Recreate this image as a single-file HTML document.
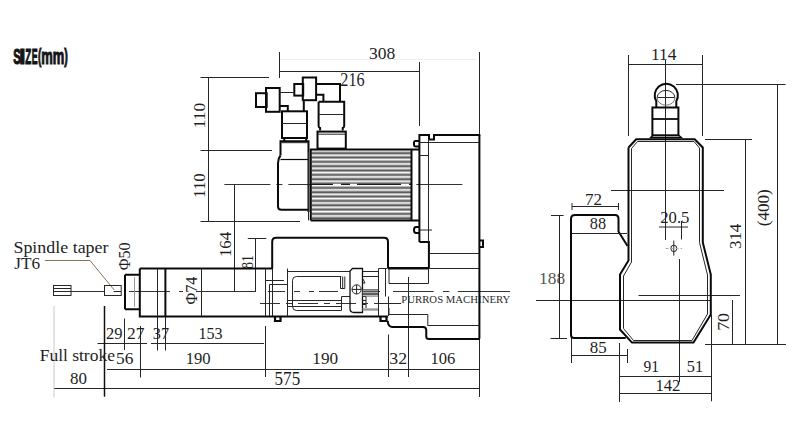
<!DOCTYPE html>
<html><head><meta charset="utf-8">
<style>
html,body{margin:0;padding:0;background:#fff;width:800px;height:432px;overflow:hidden}
svg{display:block}
text{font-family:"Liberation Serif",serif;fill:#1e1e1e}
.t{stroke:#262626;stroke-width:1;fill:none}
.k{stroke:#0a0a0a;stroke-width:2;fill:none}
.cl{stroke:#333;stroke-width:1;fill:none;stroke-dasharray:34 8 6 8}
.n{font-size:16px}
.ttl text{font-family:"Liberation Sans",sans-serif;font-weight:bold;font-size:100px;fill:#141414;stroke:#141414;stroke-width:5}
</style></head><body>
<svg width="800" height="432" viewBox="0 0 800 432">
<rect width="800" height="432" fill="#fff"/>
<defs>
  <pattern id="fins" x="0" y="150.3" width="10" height="4.34" patternUnits="userSpaceOnUse">
    <rect width="10" height="4.34" fill="#a4a4a4"/>
    <rect y="0" width="10" height="1.2" fill="#fafafa"/>
    <rect y="1.2" width="10" height="0.9" fill="#c6c6c6"/>
    <rect y="2.3" width="10" height="0.9" fill="#2e2e2e"/>
  </pattern>
  <pattern id="fins2" x="0" y="288" width="10" height="2.6" patternUnits="userSpaceOnUse">
    <rect width="10" height="2.6" fill="#4a4a4a"/>
    <rect y="1.6" width="10" height="1" fill="#cfcfcf"/>
  </pattern>
</defs>

<!-- Title -->
<g class="ttl">
<text transform="translate(13.16 63.99) scale(0.1133 0.2141)">S</text>
<text transform="translate(19.27 64.20) scale(0.2207 0.2203)">I</text>
<text transform="translate(25.21 64.20) scale(0.0982 0.2203)">Z</text>
<text transform="translate(31.72 64.20) scale(0.0885 0.2203)">E</text>
<text transform="translate(38.00 63.27) scale(0.1000 0.1968)">(</text>
<text transform="translate(41.26 64.20) scale(0.1297 0.2222)">mm</text>
<text transform="translate(64.25 63.27) scale(0.1071 0.1968)">)</text>
</g>
<!-- ============ LEFT VIEW: dimension lines ============ -->
<g class="t">
  <path d="M279.5 52V78M280 71.5H419.5M419.5 62V126M479.5 52V135"/>
  <path d="M200.5 77.5H269M200.5 150.5H272M200.5 221.5H300M208.5 77.5V221.5"/>
  <path d="M234.5 184.5V291M247.8 238.5H266.3M255.5 238.5V291"/>
  <path d="M104.5 306V396.5M124.5 318.5V350M140.5 326V377.5M157.5 316V350.5M165.5 316V350.5M265.5 326V377M388.5 334.5V377M408.5 277V377M479.5 338V397"/>
  <path d="M107 369.5H479.5M54 388.5H479.5M97.5 343.5H147M151 343.5H264"/>
</g>
<path d="M104.5 306V396.5" stroke="#111" stroke-width="1.5"/>
<path d="M280 59.5H476" stroke="#eeeeee" stroke-width="1"/>
<path d="M54 306V397.5" stroke="#c8c8c8" stroke-width="1"/>
<!-- centre lines -->
<path class="cl" d="M224.4 184.5H462.5" style="stroke-dasharray:46 6 6 6"/>
<path class="cl" d="M393 291.5H433.7M443 291.5H449.4M457.8 291.5H510" style="stroke-dasharray:none"/>
<path class="cl" d="M129 291.5H170M179 291.5H183M196 291.5H256M268 291.5H285M294 291.5H300M309 291.5H314M319 291.5H338M362 291.5H380" style="stroke-dasharray:none"/>
<path d="M70.8 291.5H104.2" stroke="#333" stroke-width="1"/>
<path class="cl" d="M260 303.5H400" style="stroke-dasharray:20 6 6 6"/>

<!-- texts left -->
<text x="401.3" y="302.6" style="font-size:10.5px;fill:#2a2a2a" textLength="109" lengthAdjust="spacingAndGlyphs">PURROS MACHINERY</text>

<!-- texts -->
<g>
<text transform="translate(369.90 58.57) scale(0.998 1)" x="-0.88" style="font-size:17.56px">308</text>
<text transform="translate(341.00 85.52) scale(0.898 1)" x="-0.81" style="font-size:18.06px">216</text>
<text transform="translate(106.80 338.84) scale(1.024 1)" x="-0.73" style="font-size:16.12px">29</text>
<text transform="translate(127.80 339.00) scale(1.064 1)" x="-0.74" style="font-size:16.36px">27</text>
<text transform="translate(153.60 338.84) scale(1.005 1)" x="-0.81" style="font-size:16.12px">37</text>
<text transform="translate(199.90 338.83) scale(0.974 1)" x="-1.49" style="font-size:16.57px">153</text>
<text transform="translate(117.00 364.43) scale(1.029 1)" x="-1.01" style="font-size:16.87px">56</text>
<text transform="translate(187.20 364.23) scale(0.952 1)" x="-1.57" style="font-size:17.48px">190</text>
<text transform="translate(313.90 364.33) scale(0.985 1)" x="-1.57" style="font-size:17.48px">190</text>
<text transform="translate(390.20 364.23) scale(1.017 1)" x="-0.87" style="font-size:17.46px">32</text>
<text transform="translate(431.90 364.23) scale(0.957 1)" x="-1.56" style="font-size:17.33px">106</text>
<text transform="translate(70.60 384.23) scale(1.022 1)" x="-0.66" style="font-size:16.59px">80</text>
<text transform="translate(275.60 384.62) scale(0.946 1)" x="-1.08" style="font-size:18.05px">575</text>
<text transform="translate(40.20 361.40) scale(1.023 1)" x="-0.51" style="font-size:17.10px">Full stroke</text>
<text transform="translate(14.60 252.50) scale(1.087 1)" x="-1.07" style="font-size:16.49px">Spindle taper</text>
<text transform="translate(14.60 269.20) scale(1.036 1)" x="-0.33" style="font-size:16.64px">JT6</text>
<text transform="translate(204.73 128.26) rotate(-90) scale(0.994 1)" style="font-size:17.48px">110</text>
<text transform="translate(204.73 197.92) rotate(-90) scale(0.968 1)" style="font-size:17.48px">110</text>
<text transform="translate(230.63 257.01) rotate(-90) scale(1.003 1)" style="font-size:16.72px">164</text>
<text transform="translate(252.53 268.74) rotate(-90) scale(0.817 1)" style="font-size:16.59px">81</text>
<text transform="translate(197.00 304.59) rotate(-90) scale(0.990 1)" style="font-size:16.36px">Φ74</text>
<text transform="translate(129.83 270.18) rotate(-90) scale(0.966 1)" style="font-size:16.59px">Φ50</text>
<text transform="translate(652.50 59.90) scale(1.032 1)" x="-1.52" style="font-size:16.89px">114</text>
<text transform="translate(586.00 204.50) scale(1.000 1)" x="-1.11" style="font-size:17.05px">72</text>
<text transform="translate(590.50 229.08) scale(0.978 1)" x="-0.67" style="font-size:16.67px">88</text>
<text transform="translate(540.60 283.58) scale(1.042 1)" x="-1.50" style="font-size:16.67px;fill:#555">188</text>
<text transform="translate(661.00 223.00) scale(1.007 1)" x="-0.74" style="font-size:16.54px">20.5</text>
<text transform="translate(590.50 353.43) scale(1.022 1)" x="-0.66" style="font-size:16.59px">85</text>
<text transform="translate(644.00 371.84) scale(0.952 1)" x="-0.49" style="font-size:16.27px">91</text>
<text transform="translate(687.80 371.84) scale(1.006 1)" x="-0.98" style="font-size:16.27px">51</text>
<text transform="translate(656.90 391.30) scale(0.992 1)" x="-1.51" style="font-size:16.82px">142</text>
<text transform="translate(741.33 249.05) rotate(-90) scale(0.978 1)" style="font-size:17.31px">314</text>
<text transform="translate(768.63 226.27) rotate(-90) scale(0.979 1)" style="font-size:17.48px">(400)</text>
<text transform="translate(728.83 330.86) rotate(-90) scale(1.040 1)" style="font-size:17.19px">70</text>
</g>
<!-- leader -->
<path d="M44.8 260.5H90L114.2 290" stroke="#8a7350" stroke-width="1" fill="none"/>

<!-- tool -->
<g class="t">
  <rect x="53.5" y="285.5" width="17.5" height="10"/>
  <path d="M53.5 288.5H71M53.5 291.5H71M113.6 291.5H121"/>
  <rect x="104.5" y="285.5" width="16.7" height="10"/>
</g>

<!-- ============ LEFT VIEW: structures ============ -->
<!-- connectors -->
<g class="k">
  <rect x="256" y="93.2" width="10.7" height="13.8"/>
  <rect x="266" y="88" width="13.7" height="23.8"/>
  <rect x="294.3" y="84" width="8.9" height="11.6"/>
  <rect x="302.8" y="77.5" width="13.3" height="22.7"/>
  <path d="M316 84H340V101.8M316 94.8H323.4V101.8"/>
  <path d="M279.7 106H287.8V111.3"/>
  <path d="M303.8 100V111.5"/>
  <!-- left stack -->
  <rect x="282" y="111.3" width="25" height="26.7"/>
  <path d="M284.3 138V141.3M306.2 138V141.3"/>
  <path d="M280.5 155.5V141.3H308.5V159.5"/>
  <path d="M308.5 159.5V211.9M308.5 209.8H281.5Q278 209.8 278 206.3V163Q278 158.5 280.5 155.5"/>
  <path d="M280.5 159.5H308.5" stroke-width="1.2"/>
  <!-- right stack -->
  <path d="M318.6 101.8H344.2V126Q344.2 127.5 342.7 128V130.5M318.6 101.8V126Q318.6 127.5 320.1 128V130.5"/>
  <rect x="317.5" y="131.6" width="28.3" height="17"/>
</g>
<g class="t">
  <path d="M279.7 92.5H294.3M282 123.5H307M280.2 142.7H308.6M318.6 114.5H344.2M317.5 134.2H345.8"/>
</g>

<!-- motor -->
<rect x="311.8" y="150.3" width="99.5" height="70" fill="url(#fins)"/>
<path d="M311.5 184.5H412" stroke="#1a1a1a" stroke-width="1.2"/>
<path d="M333 184.5H341M350 184.5H357M401 184.5H409" stroke="#fff" stroke-width="1.4"/>
<g class="k">
  <path d="M310.8 220.4V149.6H420M310.8 220.4H420"/>
  <path d="M411.5 149.6V220.4"/>
</g>
<path class="t" d="M308.5 152V220.4"/>

<!-- gearbox head -->
<g class="k">
  <path d="M419.4 242V135H429V139.4H434V135H480.3"/>
  <path d="M479.4 135V338.7"/>
  <path d="M419.4 242H428.9V268"/>
  <path d="M388.3 268H429"/>
  <path d="M419.4 141H415Q414 141 414 142.5V145Q414 146.4 415.5 146.4H419.4"/>
  <path d="M419.4 227H416Q414 227 414 230Q414 233 416 233H419.4"/>
  <path d="M480 240.5H483V247H480"/>
</g>
<g class="t">
  <path d="M419 142.5H479M428.5 139V242M429 253.5H479M429 268.5H479M419 155.5H429M420 230H432"/>
</g>

<!-- column box -->
<path class="k" d="M272.2 268.6V241.8Q272.2 237.8 276.2 237.8H384Q388 237.8 388 241.8V268.6"/>
<path class="k" d="M139.8 268.6H273M388 268.6H429"/>

<!-- quill -->
<g class="k">
  <path d="M139.8 268.6V316.5H388"/>
  <path d="M165.4 268.6V316.5"/>
  <path d="M125 274.8V309.2"/>
  <path d="M125 274.8H139.8M125 309.2H139.8"/>
</g>
<g class="t">
  <path d="M157.5 268.6V316.5M201.5 268.6V316.5"/>
  <path d="M134.5 277V307" stroke="#999"/>
</g>

<!-- slide region -->
<g class="t">
  <path d="M265.5 268.6V316M272.5 268.6V316M287.5 268.6V316M265.5 280.5H284M269.5 284.5H287.5M269.5 284.5V316"/>
  <path d="M287.5 271.5H350M362.6 271.5H378M362.6 276.5H378"/>
  <path d="M341.3 276.5H296.5Q292.5 276.5 292.5 280.5V306.5Q292.5 310.5 296.5 310.5H341.3"/>
  <path d="M340.5 276.5V288.5H344.8V276.5M342.7 276.5V288.5"/>
  <path d="M287.5 300.5H341.3M287.5 306.5H341.3"/>
  <path d="M341.5 296.5H350M341.5 296.5V310.5"/>
  <path d="M352.5 268.5H362.5V312.5H354Q350 312.5 350 308.5V271Z" stroke="#111" stroke-width="1.3"/>
  <circle cx="356.6" cy="289.4" r="4.6"/>
  <path d="M352 289.4H361.2M356.6 284.8V294"/>
  <path d="M362.5 296.5H366V308M362.5 300.5H366M362.5 304.5H366"/>
  <path d="M378.5 268.5V316M378.5 268.5H387M385.5 268.5V296.5M388.5 296.5V316"/>
  <path d="M378.3 303.5H401.2"/>
  <path d="M389 268.5V283.5H428.5V268.5M389 308V314.5H427.8V325.5H479.4"/>
  <path d="M363 279L365 283L363 283"/>
</g>
<rect x="362.6" y="289" width="15.4" height="7.5" fill="url(#fins2)"/>
<rect x="362.6" y="308.3" width="15.4" height="2.4" fill="#999"/>
<g class="k">
  <path d="M275 316.5V321H280.5V316.5M380.5 316.5V321H386.5V316.5" stroke-width="2.2"/>
  <path d="M387.7 320.8Q388 326.9 392 326.9H423Q426.25 326.9 426.25 330.2V336.5Q426.25 339 429 339H479.4"/>
</g>

<!-- ============ RIGHT VIEW ============ -->
<g class="t">
  <path d="M628.5 55V136M702.5 55V136M628.5 64.5H702.5"/>
  <path d="M665.5 60V240"/>
  <path d="M676 84.5H785.5M777.5 84.5V344.5M705 139.5H752M745.5 139.5V344.5M705 344.5H786"/>
  <path d="M732.5 300V344.5"/>
  <path d="M611 190.5H724M536 300.5H710M638.5 295.5H740"/>
  <path d="M572 206.5H618.5M572 203V210M618.5 203V210"/>
  <path d="M559.5 215V338M551 215.5H563.6M550.6 338.5H567"/>
  <path d="M571 355.5H627M571.5 338V363M627.5 349V363"/>
  <path d="M619.5 343V402M679.5 259V382M711.5 315V401.3M619.5 376.5H712M619.5 393.5H712"/>
  <path d="M659 227H688M681.5 221V239.5"/>
  <path d="M673.8 240.6V255.6"/>
  <ellipse cx="673.8" cy="248.4" rx="3" ry="3.2"/>
</g>
<path d="M665.6 248.5H682" stroke="#aaa" stroke-width="1" stroke-dasharray="3 2"/>

<!-- knob -->
<g class="k">
  <path d="M656.3 107.5V101.2A11.6 11.6 0 1 1 676.3 101.2V107.5"/>
  <rect x="652.4" y="107.5" width="26" height="27.9"/>
  <path d="M650.5 137.7H681.5L679 135.4H653Z" stroke-width="1.3"/>
  <path d="M652.4 119H678.4" stroke-width="1.8"/>
</g>
<g class="t">
  <path d="M657.1 97.8A8.9 7.4 0 0 1 674.9 97.8"/>
  <path d="M657.5 97.5H674.5"/>
  <path d="M657.1 97.8A8.9 7.4 0 0 0 674.9 97.8" stroke="#777"/>
</g>
<!-- body -->
<g class="k">
  <path d="M628.5 147.5L636.2 139.3H694.7L702.8 147.5V242.5L710.8 274.5V314.5L693.5 342.6H632L620 329.5V274.6L628.5 260.5V147.5"/>
</g>
<g class="t">
  <path d="M631.5 148.5L637.5 141.5H694L699.5 148V242.5L707.5 275V314L692 340.5H633.5L623.5 328.5V276L631.5 262V148.5"/>
</g>
<!-- 88 box -->
<g class="k">
  <path d="M571 335V219Q571 215 575 215H615Q618.5 215 618.5 219V231.5L627.5 246"/>
  <path d="M571 335Q571 338 574 338H625.7"/>
</g>
<path class="t" d="M572 233.5H627"/>

</svg>
</body></html>
